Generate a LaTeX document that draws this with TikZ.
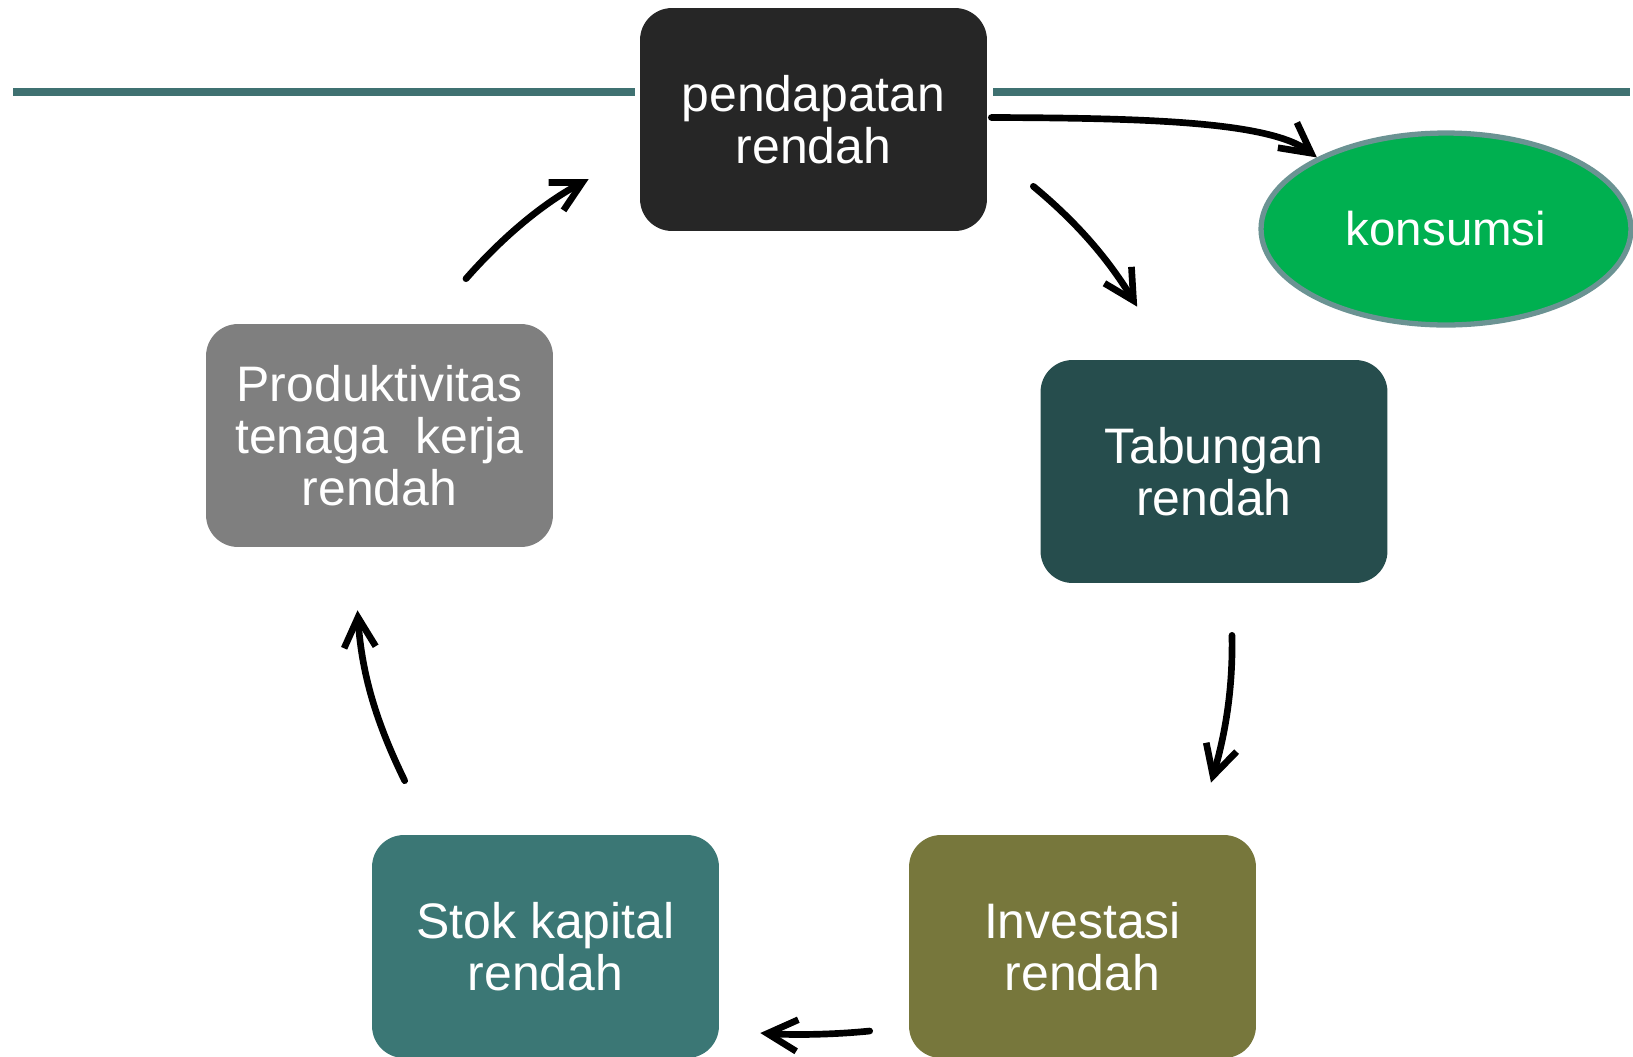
\documentclass[tikz,border=0pt]{standalone}
\usepackage{fontspec}
\setmainfont{Liberation Sans}
\usetikzlibrary{arrows.meta,calc,shapes.geometric}
\definecolor{cPend}{HTML}{262626}
\definecolor{cTab}{HTML}{264D4D}
\definecolor{cInv}{HTML}{77773C}
\definecolor{cStok}{HTML}{3B7775}
\definecolor{cProd}{HTML}{7F7F7F}
\definecolor{cKons}{HTML}{00B050}
\definecolor{cKonsB}{HTML}{6B9393}
\definecolor{cLine}{HTML}{3F7171}
\begin{document}
\begin{tikzpicture}[x=0.02cm,y=-0.02cm,
  box/.style={rounded corners=0.64cm, minimum width=6.94cm, minimum height=4.46cm,
    inner sep=0pt, text=white, align=center, font=\fontsize{28.4}{29.6}\selectfont},
  arr/.style={line width=3.8pt, line cap=round, -{Straight Barb[length=17pt,width=18pt]}},
  hline/.style={line width=4.5pt, draw=cLine}]
\useasboundingbox (0,0) rectangle (1633,1056);

\draw[hline] (13,92) -- (635,92);
\draw[hline] (993,92) -- (1630,92);

\node[box, fill=cPend] (pend) at (813.5,119.5) {pendapatan\\rendah};
\node[box, fill=cTab]  (tab)  at (1214,471.5) {Tabungan\\rendah};
\node[box, fill=cInv]  (inv)  at (1082.5,946.5) {Investasi\\rendah};
\node[box, fill=cStok] (stok) at (545.5,946.5) {Stok kapital\\rendah};
\node[box, fill=cProd] (prod) at (379.5,435.5) {Produktivitas\\tenaga~~kerja\\rendah};
\node[ellipse, fill=cKons, draw=cKonsB, line width=3pt, minimum width=7.4cm,
  minimum height=3.84cm, inner sep=0pt, text=white, font=\fontsize{27}{29}\selectfont]
  (kons) at (1446,229) {konsumsi};

\draw[arr] ($(pend.east)+(4,-2)$) .. controls (1150,118) and (1270,122) .. (kons.151);
\draw[arr] ($(pend.south east)+(46,-45)$) .. controls (1080,225) and (1110,262) .. ($(tab.north west)+(97,-53)$);
\draw[arr] ($(tab.south)+(18,52)$) .. controls (1233,690) and (1225,735) .. ($(inv.north)+(128.5,-52)$);
\draw[arr] ($(inv.west)+(-39,84.5)$) .. controls (830,1035) and (790,1035) .. ($(stok.east)+(41,86.5)$);
\draw[arr] ($(stok.north west)+(33,-54)$) .. controls (380,730) and (362,680) .. ($(prod.south)+(-22,63)$);
\draw[arr] ($(prod.north)+(86.5,-45)$) .. controls (500,240) and (540,205) .. ($(pend.west)+(-51,59.5)$);
\end{tikzpicture}
\end{document}
